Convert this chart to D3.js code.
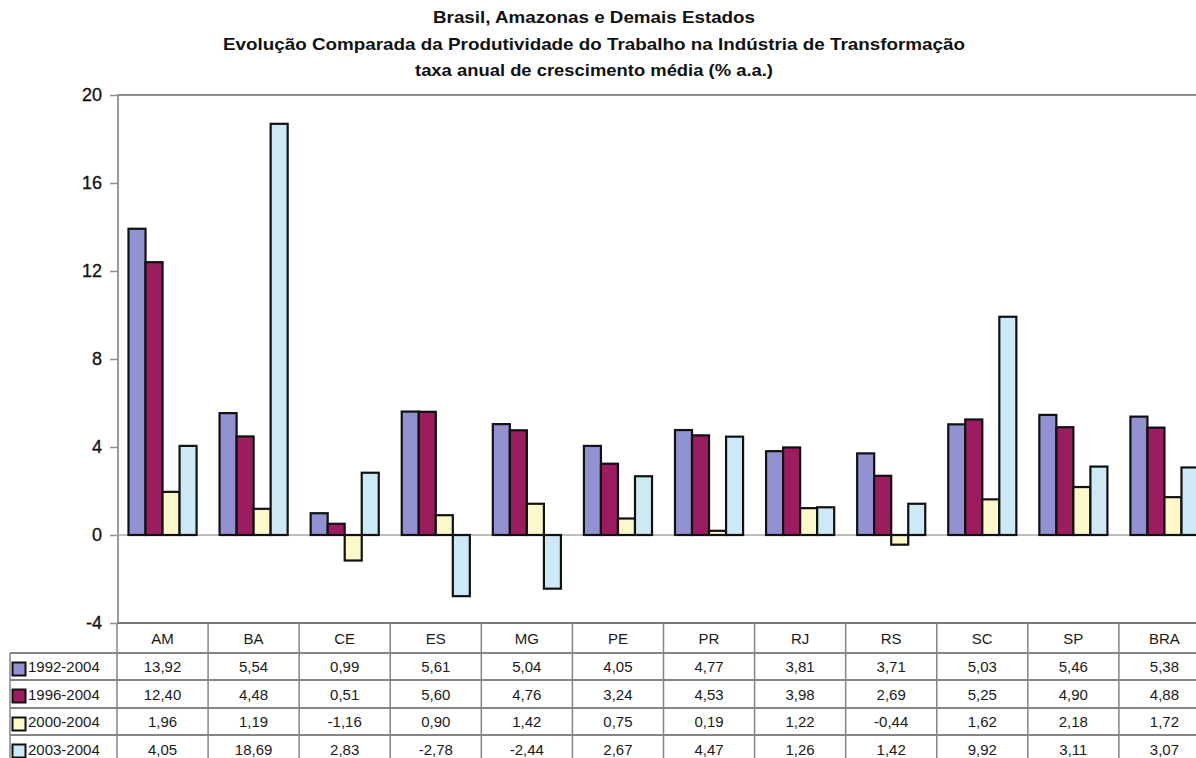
<!DOCTYPE html>
<html>
<head>
<meta charset="utf-8">
<script src="https://cdn.jsdelivr.net/npm/d3@7"></script>
<style>
  html, body { margin: 0; padding: 0; background: #ffffff; }
  svg { display: block; font-family: "Liberation Sans", Arial, sans-serif; }
</style>
</head>
<body>
<svg id="chart" width="1196" height="758"></svg>
<script>
// Produtividade do trabalho na indústria de transformação (% a.a.)
const categories = ["AM", "BA", "CE", "ES", "MG", "PE", "PR", "RJ", "RS", "SC", "SP", "BRA"];
const seriesNames = ["1992-2004", "1996-2004", "2000-2004", "2003-2004"];
const values1992 = [13.92, 5.54, 0.99, 5.61, 5.04, 4.05, 4.77, 3.81, 3.71, 5.03, 5.46, 5.38];
const values1996 = [12.40, 4.48, 0.51, 5.60, 4.76, 3.24, 4.53, 3.98, 2.69, 5.25, 4.90, 4.88];
const values2000 = [1.96, 1.19, -1.16, 0.90, 1.42, 0.75, 0.19, 1.22, -0.44, 1.62, 2.18, 1.72];
const values2003 = [4.05, 18.69, 2.83, -2.78, -2.44, 2.67, 4.47, 1.26, 1.42, 9.92, 3.11, 3.07];
const yTicks = [-4, 0, 4, 8, 12, 16, 20];
const titleLines = [
  "Brasil, Amazonas e Demais Estados",
  "Evolução Comparada da Produtividade do Trabalho na Indústria de Transformação",
  "taxa anual de crescimento média (% a.a.)"
];

const seriesValues = [values1992, values1996, values2000, values2003];
const colors = ["#9292d2", "#9b1d60", "#fcf8c9", "#cde9f5"];

const svg = d3.select("#chart");
const plotLeft = 117, plotRight = 1210, plotTop = 95, plotBottom = 623;

const x0 = d3.scaleBand().domain(categories).range([plotLeft, plotRight]).padding(0);
const x1 = d3.scaleBand().domain(seriesNames).range([0, x0.bandwidth()])
  .paddingInner(0).paddingOuter(0.675);
const y = d3.scaleLinear().domain([-4, 20]).range([plotBottom, plotTop]);

// Brazilian number format: comma decimal, plain hyphen as minus
const ptBR = d3.formatLocale({ decimal: ",", thousands: ".", grouping: [3], currency: ["R$", ""], minus: "-" });
const fmt = ptBR.format(".2f");
const fmtTick = ptBR.format("d");

// Title
const titleY = [23, 50, 76];
const titleW = [322, 742, 358];
svg.append("g").selectAll("text").data(titleLines).join("text")
  .attr("x", 594).attr("y", (d, i) => titleY[i])
  .attr("text-anchor", "middle")
  .attr("font-size", 17).attr("font-weight", "bold").attr("fill", "#111")
  .attr("textLength", (d, i) => titleW[i])
  .attr("lengthAdjust", "spacingAndGlyphs")
  .text(d => d);

// Plot frame: top border, left axis line, zero line
svg.append("line").attr("x1", plotLeft).attr("x2", 1196).attr("y1", y(20)).attr("y2", y(20))
  .attr("stroke", "#8f8f8f").attr("stroke-width", 1.8);
svg.append("line").attr("x1", plotLeft + 1).attr("x2", plotLeft + 1).attr("y1", y(20)).attr("y2", plotBottom)
  .attr("stroke", "#8f8f8f").attr("stroke-width", 1.8);
svg.append("line").attr("x1", plotLeft).attr("x2", 1196).attr("y1", y(0)).attr("y2", y(0))
  .attr("stroke", "#a8a8a8").attr("stroke-width", 1.5);

// Y axis ticks and labels
const yAxis = d3.axisLeft(y).tickValues(yTicks).tickSize(8).tickPadding(8).tickFormat(fmtTick);
const gy = svg.append("g").attr("transform", `translate(${plotLeft + 1},0)`).call(yAxis);
gy.select(".domain").remove();
gy.selectAll(".tick line").attr("stroke", "#8f8f8f").attr("stroke-width", 1.5);
gy.selectAll(".tick text").attr("font-size", 18).attr("fill", "#111")
  .attr("font-family", "Liberation Sans, Arial, sans-serif")
  .attr("stroke", "#111").attr("stroke-width", 0.3);

// Bars
const groups = svg.append("g").selectAll("g").data(categories).join("g")
  .attr("transform", d => `translate(${x0(d)},0)`);
groups.selectAll("rect")
  .data((c, ci) => seriesNames.map((s, si) => ({ s, si, v: seriesValues[si][ci] })))
  .join("rect")
  .attr("x", d => x1(d.s))
  .attr("width", x1.bandwidth())
  .attr("y", d => y(Math.max(0, d.v)))
  .attr("height", d => Math.abs(y(d.v) - y(0)))
  .attr("fill", d => colors[d.si])
  .attr("stroke", "#111").attr("stroke-width", 2.2);

// Data table under the plot
const rowTops = [653, 680, 708, 735, 763];
const gridColor = "#858585";
const table = svg.append("g");
// horizontal rules
table.append("line").attr("x1", plotLeft).attr("x2", 1196).attr("y1", plotBottom).attr("y2", plotBottom)
  .attr("stroke", "#777").attr("stroke-width", 2.2);
rowTops.slice(0, 4).forEach(t => {
  table.append("line").attr("x1", 10).attr("x2", 1196).attr("y1", t).attr("y2", t)
    .attr("stroke", gridColor).attr("stroke-width", 1.8);
});
// vertical rules
table.append("line").attr("x1", 10).attr("x2", 10).attr("y1", rowTops[0]).attr("y2", 758)
  .attr("stroke", gridColor).attr("stroke-width", 1.5);
table.selectAll(".vcol").data(categories).join("line").attr("class", "vcol")
  .attr("x1", d => x0(d)).attr("x2", d => x0(d)).attr("y1", plotBottom).attr("y2", 758)
  .attr("stroke", gridColor).attr("stroke-width", 1.5);

// header
table.selectAll(".hdr").data(categories).join("text").attr("class", "hdr")
  .attr("x", d => x0(d) + x0.bandwidth() / 2).attr("y", 644)
  .attr("text-anchor", "middle").attr("font-size", 15).attr("fill", "#1a1a1a")
  .text(d => d);

// rows
seriesNames.forEach((s, si) => {
  const cy = (rowTops[si] + rowTops[si + 1]) / 2;
  table.append("rect").attr("x", 12.5).attr("y", rowTops[si] + 9.5).attr("width", 13).attr("height", 13)
    .attr("fill", colors[si]).attr("stroke", "#111").attr("stroke-width", 2);
  table.append("text").attr("x", 28).attr("y", cy + 5.5)
    .attr("font-size", 15).attr("fill", "#1a1a1a").text(s);
  table.selectAll(".v" + si).data(categories).join("text").attr("class", "v" + si)
    .attr("x", d => x0(d) + x0.bandwidth() / 2).attr("y", cy + 5.5)
    .attr("text-anchor", "middle").attr("font-size", 15).attr("fill", "#1a1a1a")
    .text((d, ci) => fmt(seriesValues[si][ci]));
});
</script>
</body>
</html>
